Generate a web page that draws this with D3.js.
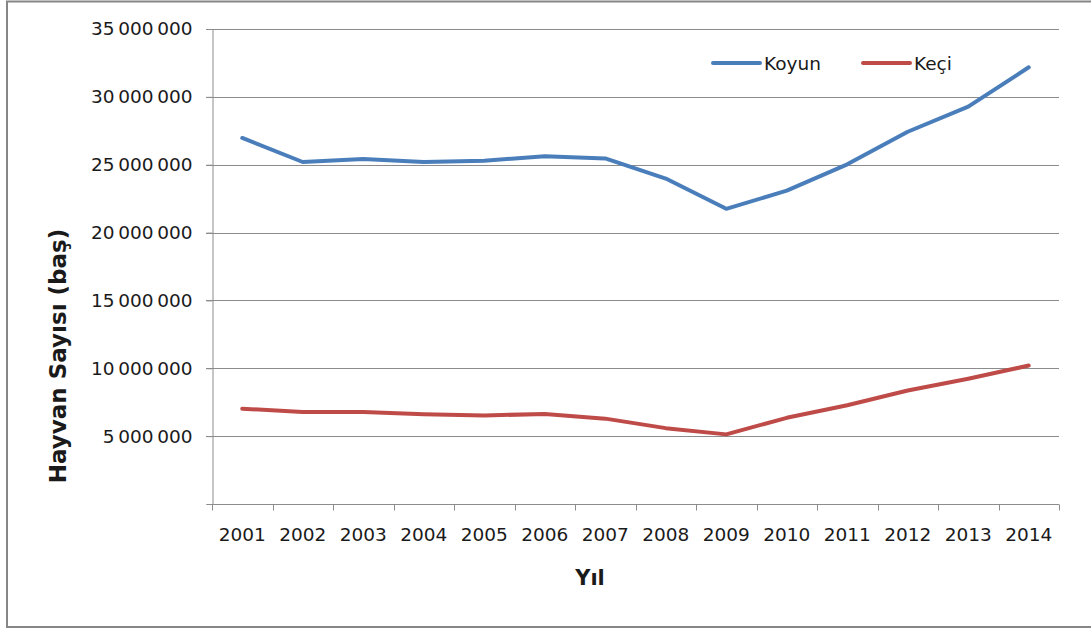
<!DOCTYPE html>
<html>
<head>
<meta charset="utf-8">
<script src="https://cdn.jsdelivr.net/npm/d3@7"></script>
<style>
  body { margin: 0; background: #fff; }
  text { font-family: "DejaVu Sans", "Liberation Sans", sans-serif; fill: #1a1a1a; }
</style>
</head>
<body>
<div id="chart"></div>
<script>
// years on the x axis
const years = ["2001", "2002", "2003", "2004", "2005", "2006", "2007",
  "2008", "2009", "2010", "2011", "2012", "2013", "2014"];

// animal counts
const koyun = [26970000, 25200000, 25430000, 25200000, 25300000, 25620000, 25460000,
  23980000, 21750000, 23090000, 25030000, 27430000, 29280000, 32180000];
const keci = [7020000, 6780000, 6770000, 6610000, 6520000, 6640000, 6290000,
  5590000, 5130000, 6350000, 7280000, 8360000, 9230000, 10200000];

const yTicks = [0, 5000000, 10000000, 15000000, 20000000, 25000000, 30000000, 35000000];

const seriesNames = ["Koyun", "Keçi"];
const seriesColors = ["#4a7ebb", "#be4b48"];

const width = 1091, height = 630;
const plotLeft = 212, plotRight = 1059, plotTop = 29, plotBottom = 504;

const svg = d3.select("#chart").append("svg")
  .attr("width", width).attr("height", height);

// outer chart frame
svg.append("rect")
  .attr("x", 7).attr("y", 1.5)
  .attr("width", 1100).attr("height", 625.5)
  .attr("fill", "none").attr("stroke", "#868686").attr("stroke-width", 2);

const x = d3.scaleBand().domain(years).range([plotLeft, plotRight]);
const y = d3.scaleLinear().domain([0, 35000000]).range([plotBottom, plotTop]);

const fmt = d3.formatLocale({ decimal: ",", thousands: "\u2009", grouping: [3], currency: ["", ""] }).format(",d");

// horizontal gridlines
svg.append("g").selectAll("line")
  .data(yTicks.filter(d => d > 0))
  .enter().append("line")
  .attr("x1", plotLeft - 6).attr("x2", plotRight)
  .attr("y1", d => Math.round(y(d)) + 0.5).attr("y2", d => Math.round(y(d)) + 0.5)
  .attr("stroke", "#8c8c8c").attr("stroke-width", 1);

// y axis
const yAxis = svg.append("g")
  .attr("transform", `translate(${plotLeft + 0.5},0)`)
  .call(d3.axisLeft(y).tickValues(yTicks).tickSize(6).tickPadding(14).tickFormat(d => d === 0 ? "" : fmt(d)));
yAxis.select(".domain").attr("stroke", "#8c8c8c");
yAxis.selectAll(".tick line").attr("stroke", "#8c8c8c");
yAxis.selectAll(".tick text")
  .style("font-size", "18.5px").attr("fill", "#1a1a1a");

// x axis with ticks at band edges
const xAxis = svg.append("g")
  .attr("transform", `translate(0,${plotBottom + 0.5})`);
xAxis.append("line")
  .attr("x1", plotLeft).attr("x2", plotRight)
  .attr("stroke", "#8c8c8c");
xAxis.selectAll(".edge")
  .data(years.concat(["end"]))
  .enter().append("line")
  .attr("x1", (d, i) => Math.round(plotLeft + i * x.bandwidth()) + 0.5)
  .attr("x2", (d, i) => Math.round(plotLeft + i * x.bandwidth()) + 0.5)
  .attr("y1", 0).attr("y2", 6)
  .attr("stroke", "#8c8c8c");
xAxis.selectAll("text")
  .data(years)
  .enter().append("text")
  .attr("x", d => x(d) + x.bandwidth() / 2)
  .attr("y", 36)
  .attr("text-anchor", "middle")
  .style("font-size", "18.5px")
  .text(d => d);

// axis titles
svg.append("text")
  .attr("x", 590).attr("y", 585)
  .attr("text-anchor", "middle")
  .style("font-size", "21px").style("font-weight", "bold")
  .attr("fill", "#000")
  .text("Yıl");

svg.append("text")
  .attr("transform", "translate(66,356) rotate(-90)")
  .attr("text-anchor", "middle")
  .style("font-size", "23px").style("font-weight", "bold")
  .attr("fill", "#000")
  .text("Hayvan Sayısı (baş)");

// lines
const line = d3.line()
  .x((d, i) => x(years[i]) + x.bandwidth() / 2)
  .y(d => y(d));

[koyun, keci].forEach((vals, k) => {
  svg.append("path")
    .datum(vals)
    .attr("d", line)
    .attr("fill", "none")
    .attr("stroke", seriesColors[k])
    .attr("stroke-width", 4)
    .attr("stroke-linejoin", "round")
    .attr("stroke-linecap", "round");
});

// legend
const legendX = [713, 863];
seriesNames.forEach((name, k) => {
  const g = svg.append("g").attr("transform", `translate(${legendX[k]},63)`);
  g.append("line")
    .attr("x1", 0).attr("x2", 47)
    .attr("stroke", seriesColors[k]).attr("stroke-width", 4)
    .attr("stroke-linecap", "round");
  g.append("text")
    .attr("x", 51).attr("y", 7)
    .style("font-size", "18.5px")
    .text(name);
});
</script>
</body>
</html>
